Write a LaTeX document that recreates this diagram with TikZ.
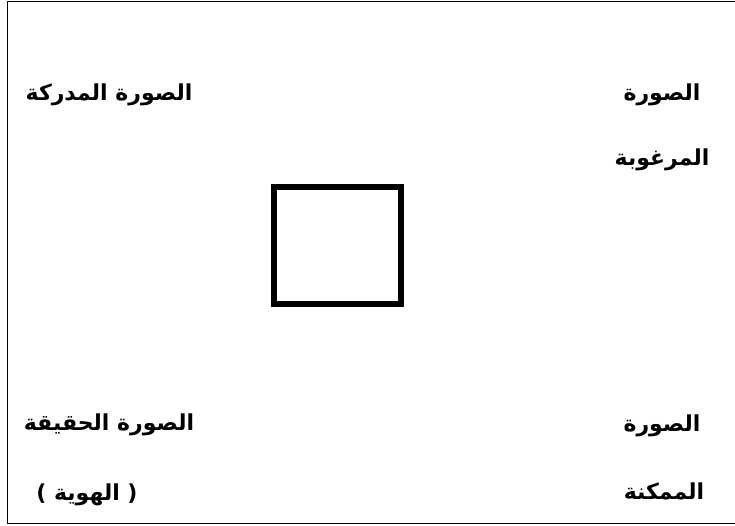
\documentclass[tikz,border=0pt]{standalone}
\usepackage{fontspec}
\newfontfamily\arabicfont[Script=Arabic]{DejaVu Sans}
\TeXXeTstate=1
\begin{document}
\begin{tikzpicture}[x=1pt, y=-1pt,
  lbl/.style={font=\arabicfont\bfseries\fontsize{22}{26}\selectfont, anchor=base, inner sep=0pt},
  frame/.style={draw, line width=0.9pt},
  selfbox/.style={draw, line width=6.5pt, minimum width=127pt, minimum height=117pt, inner sep=0pt}
]
  \path[use as bounding box, clip] (0,0) rectangle (735,526);
  % outer frame (its right side is cut off by the page)
  \draw[frame] (760,1) -- (7,1) -- (7,523) -- (760,523);
  % the self in the middle
  \node[selfbox] (self) at (337.5,245.5) {};
  % top row
  \node[lbl] (perceived) at (109,101) {\beginR الصورة المدركة\endR};
  \node[lbl] (desiredA) at (662,101) {\beginR الصورة\endR};
  \node[lbl] (desiredB) at (662,166) {\beginR المرغوبة\endR};
  % bottom row
  \node[lbl] (realA) at (109,430) {\beginR الصورة الحقيقة\endR};
  \node[lbl] (realB) at (87,500) {\beginR( الهوية )\endR};
  \node[lbl] (possibleA) at (662,431) {\beginR الصورة\endR};
  \node[lbl] (possibleB) at (664,499) {\beginR الممكنة\endR};
\end{tikzpicture}
\end{document}
